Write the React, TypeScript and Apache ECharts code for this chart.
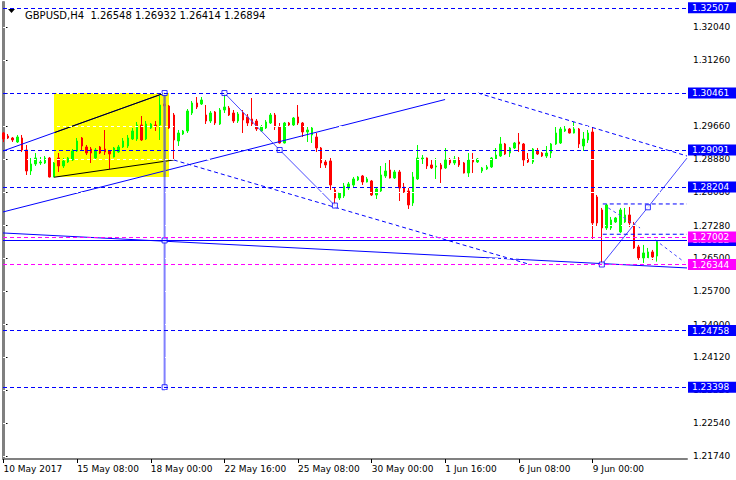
import { useEffect, useRef } from "react";
import * as echarts from "echarts";

const header = "GBPUSD,H4  1.26548 1.26932 1.26414 1.26894";
const xTickLabels = [
  "10 May 2017", "15 May 08:00", "18 May 00:00", "22 May 16:00", "25 May 08:00",
  "30 May 00:00", "1 Jun 16:00", "6 Jun 08:00", "9 Jun 00:00",
];
const barsPerTick = 16;
const yTicks = [
  1.3204, 1.3126, 1.3046, 1.2966, 1.2888, 1.2808, 1.2728, 1.265, 1.257, 1.249,
  1.2412, 1.2332, 1.2254, 1.2174,
];

// [open, close, low, high], one H4 bar each
const candles: number[][] = [
  [1.29502, 1.29358, 1.29286, 1.29526],
  [1.29430, 1.29382, 1.29358, 1.29478],
  [1.29382, 1.29334, 1.29286, 1.29406],
  [1.29286, 1.29406, 1.29262, 1.29454],
  [1.29382, 1.29094, 1.29046, 1.29454],
  [1.29094, 1.28590, 1.28494, 1.29214],
  [1.28590, 1.28758, 1.28494, 1.28902],
  [1.28758, 1.28902, 1.28710, 1.29022],
  [1.28782, 1.28806, 1.28734, 1.28926],
  [1.28782, 1.28902, 1.28758, 1.28950],
  [1.28902, 1.28446, 1.28434, 1.28926],
  [1.28446, 1.28782, 1.28440, 1.28806],
  [1.28902, 1.28710, 1.28566, 1.29022],
  [1.28710, 1.28830, 1.28662, 1.28902],
  [1.28806, 1.28902, 1.28782, 1.28926],
  [1.28854, 1.29070, 1.28830, 1.29118],
  [1.29070, 1.29310, 1.29046, 1.29382],
  [1.29382, 1.29190, 1.29094, 1.29406],
  [1.29166, 1.29022, 1.28974, 1.29214],
  [1.29118, 1.29022, 1.28782, 1.29166],
  [1.28902, 1.29094, 1.28878, 1.29142],
  [1.29166, 1.29022, 1.28998, 1.29190],
  [1.29118, 1.29046, 1.28974, 1.29574],
  [1.29070, 1.28998, 1.28638, 1.29094],
  [1.28926, 1.29142, 1.28914, 1.29166],
  [1.29046, 1.29166, 1.29022, 1.29214],
  [1.29166, 1.29310, 1.29142, 1.29382],
  [1.29190, 1.29382, 1.29142, 1.29454],
  [1.29358, 1.29550, 1.29334, 1.29622],
  [1.29358, 1.29694, 1.29310, 1.29766],
  [1.29694, 1.29334, 1.29310, 1.29910],
  [1.29358, 1.29718, 1.29334, 1.29790],
  [1.29622, 1.29718, 1.29598, 1.29742],
  [1.29694, 1.29670, 1.29550, 1.29790],
  [1.29694, 1.30174, 1.29334, 1.30390],
  [1.30198, 1.30150, 1.30102, 1.30461],
  [1.30150, 1.29622, 1.29598, 1.30174],
  [1.29934, 1.29334, 1.28854, 1.29982],
  [1.29310, 1.29502, 1.29190, 1.29574],
  [1.29478, 1.29550, 1.29454, 1.29574],
  [1.29550, 1.30030, 1.29502, 1.30078],
  [1.29982, 1.30222, 1.29934, 1.30270],
  [1.30222, 1.30126, 1.30078, 1.30366],
  [1.30198, 1.30294, 1.30174, 1.30366],
  [1.29934, 1.29790, 1.29718, 1.30174],
  [1.29790, 1.29982, 1.29742, 1.30030],
  [1.30006, 1.29742, 1.29694, 1.30030],
  [1.29718, 1.30054, 1.29694, 1.30102],
  [1.30054, 1.30126, 1.29982, 1.30461],
  [1.30102, 1.29934, 1.29910, 1.30150],
  [1.29982, 1.29790, 1.29742, 1.30054],
  [1.29790, 1.29958, 1.29742, 1.30006],
  [1.29982, 1.29814, 1.29502, 1.30054],
  [1.29886, 1.29742, 1.29670, 1.29958],
  [1.29838, 1.29718, 1.29646, 1.30342],
  [1.29790, 1.29598, 1.29550, 1.29838],
  [1.29550, 1.29646, 1.29526, 1.29694],
  [1.29622, 1.29766, 1.29598, 1.29814],
  [1.29742, 1.29934, 1.29718, 1.29982],
  [1.29934, 1.29646, 1.29574, 1.29982],
  [1.29646, 1.29262, 1.29250, 1.29742],
  [1.29262, 1.29742, 1.29250, 1.29766],
  [1.29742, 1.29694, 1.29670, 1.29766],
  [1.29694, 1.29862, 1.29670, 1.29886],
  [1.29886, 1.29742, 1.29694, 1.30174],
  [1.29742, 1.29526, 1.29406, 1.29766],
  [1.29526, 1.29574, 1.29286, 1.29646],
  [1.29454, 1.29622, 1.29262, 1.29646],
  [1.29406, 1.29142, 1.29046, 1.29502],
  [1.29142, 1.28782, 1.28662, 1.29166],
  [1.28806, 1.28734, 1.28662, 1.28854],
  [1.28830, 1.28254, 1.28134, 1.28902],
  [1.28134, 1.27942, 1.27760, 1.28182],
  [1.27942, 1.28062, 1.27894, 1.28086],
  [1.27990, 1.28230, 1.27942, 1.28302],
  [1.28182, 1.28278, 1.28134, 1.28326],
  [1.28254, 1.28398, 1.28206, 1.28446],
  [1.28374, 1.28446, 1.28350, 1.28470],
  [1.28470, 1.28326, 1.28254, 1.28494],
  [1.28326, 1.28398, 1.28314, 1.28446],
  [1.28350, 1.28014, 1.27990, 1.28374],
  [1.28014, 1.28158, 1.27918, 1.28182],
  [1.28110, 1.28494, 1.28086, 1.28710],
  [1.28470, 1.28590, 1.28422, 1.28782],
  [1.28614, 1.28422, 1.28410, 1.28878],
  [1.28422, 1.28566, 1.28398, 1.28614],
  [1.28566, 1.28182, 1.27870, 1.28614],
  [1.28206, 1.28086, 1.28062, 1.28302],
  [1.28110, 1.27774, 1.27678, 1.28182],
  [1.27822, 1.28446, 1.27750, 1.28566],
  [1.28398, 1.28902, 1.28374, 1.29214],
  [1.28878, 1.28902, 1.28758, 1.28974],
  [1.28902, 1.28710, 1.28638, 1.28914],
  [1.28734, 1.28662, 1.28638, 1.28878],
  [1.28686, 1.28710, 1.28398, 1.28902],
  [1.28734, 1.28638, 1.28302, 1.28782],
  [1.28662, 1.28854, 1.28638, 1.29142],
  [1.28854, 1.28782, 1.28734, 1.28902],
  [1.28782, 1.28878, 1.28734, 1.28950],
  [1.28878, 1.28734, 1.28686, 1.28926],
  [1.28782, 1.28542, 1.28530, 1.28806],
  [1.28542, 1.28854, 1.28446, 1.29022],
  [1.28854, 1.28806, 1.28542, 1.29022],
  [1.28806, 1.28878, 1.28782, 1.28902],
  [1.28590, 1.28662, 1.28542, 1.28686],
  [1.28638, 1.28686, 1.28614, 1.28734],
  [1.28686, 1.28902, 1.28662, 1.28926],
  [1.28878, 1.28974, 1.28854, 1.29142],
  [1.28950, 1.29238, 1.28926, 1.29406],
  [1.29238, 1.28998, 1.28974, 1.29262],
  [1.29022, 1.29142, 1.28926, 1.29166],
  [1.29142, 1.29262, 1.29118, 1.29286],
  [1.29286, 1.29238, 1.29046, 1.29502],
  [1.29238, 1.28854, 1.28710, 1.29262],
  [1.28878, 1.28806, 1.28782, 1.29022],
  [1.28806, 1.29118, 1.28758, 1.29142],
  [1.29070, 1.28998, 1.28974, 1.29142],
  [1.29022, 1.28950, 1.28926, 1.29046],
  [1.28950, 1.29022, 1.28902, 1.29190],
  [1.29022, 1.29238, 1.28902, 1.29262],
  [1.29238, 1.29502, 1.29214, 1.29670],
  [1.29262, 1.29598, 1.29238, 1.29646],
  [1.29550, 1.29598, 1.29526, 1.29670],
  [1.29598, 1.29502, 1.29490, 1.29622],
  [1.29502, 1.29598, 1.29490, 1.29766],
  [1.29598, 1.29238, 1.29142, 1.29622],
  [1.29190, 1.29358, 1.29070, 1.29526],
  [1.29334, 1.29502, 1.29262, 1.29574],
  [1.29526, 1.27342, 1.26958, 1.29646],
  [1.27966, 1.27342, 1.27270, 1.28014],
  [1.27654, 1.27222, 1.26344, 1.27702],
  [1.27222, 1.27774, 1.27174, 1.27800],
  [1.27222, 1.27414, 1.27174, 1.27486],
  [1.27366, 1.27462, 1.27342, 1.27486],
  [1.27126, 1.27654, 1.27102, 1.27702],
  [1.27366, 1.27534, 1.27342, 1.27702],
  [1.27534, 1.27342, 1.27246, 1.27726],
  [1.27318, 1.26742, 1.26718, 1.27366],
  [1.26766, 1.26502, 1.26454, 1.26814],
  [1.26502, 1.26622, 1.26382, 1.26814],
  [1.26502, 1.26646, 1.26478, 1.26742],
  [1.26646, 1.26526, 1.26454, 1.26694],
  [1.26548, 1.26894, 1.26414, 1.26932],
];

const blueLevels = [1.32507, 1.30461, 1.29091, 1.28204, 1.24758, 1.23398];
const magentaLevels = [1.27002, 1.26344];
const solidLevel = 1.26922;
const lastClose = 1.26894;

const X_MIN = -0.11;
const X_MAX = 148.5;
const Y_MIN = 1.21675;
const Y_MAX = 1.32647;

// drawn objects, [bar index, price]
const yellowBox = [[10.97, 1.30461], [35.96, 1.28446]];
const upperRay = [[X_MIN, 1.2907], [35, 1.30461]];
const upperChannel = [[11.19, 1.29516], [35, 1.30461]];
const lowerChannel = [[11, 1.2844], [37, 1.28854]];
const risingLine = [[X_MIN, 1.27606], [95.94, 1.30306]];
const verticalLine = [[35, 1.30461], [35, 1.23398]];
const verticalInBox = [[35, 1.30461], [35, 1.28446]];
const zigzag = [[48, 1.30461], [60, 1.29094], [72, 1.2776]];
const dashDown1 = [[37, 1.28854], [114.4, 1.26344]];
const dashDown2 = [[103.1, 1.30461], [X_MAX, 1.2895]];
const risingThin = [[130, 1.26344], [140, 1.27718], [X_MAX, 1.289]];
const longDesc = [[X_MIN, 1.27102], [X_MAX, 1.26262]];
const shortLevelA = [[130.2, 1.27798], [X_MAX, 1.27798]];
const shortLevelB = [[130.2, 1.27071], [X_MAX, 1.27071]];
const smallDash1 = [[131.4, 1.27702], [138.3, 1.27222]];
const smallDash2 = [[141.6, 1.26934], [147.9, 1.26406]];
const squares = [
  [35, 1.30461], [35, 1.26922], [35, 1.23398], [48, 1.30461],
  [60, 1.29094], [72, 1.2776], [130, 1.26344], [140, 1.27718],
];

const FONT = "DejaVu Sans";

export default function App() {
  const ref = useRef<HTMLDivElement>(null);
  useEffect(() => {
    if (!ref.current) return;
    const chart = echarts.init(ref.current, undefined, { renderer: "svg" });

    const seg = (pts: number[][], color: string, width: number, dash?: number[]) => ({
      type: "line",
      data: pts,
      symbol: "none",
      silent: true,
      z: 3,
      lineStyle: { color, width, type: dash ? dash : "solid" },
    });

    const boxLabel = (v: number, bg: string) => ({
      show: true,
      position: "end",
      distance: 1,
      formatter: v.toFixed(5),
      color: "#ffffff",
      backgroundColor: bg,
      fontFamily: FONT,
      fontSize: 9,
      lineHeight: 10,
      padding: [1, 9, 0, 4],
    });

    const levelData: any[] = [];
    blueLevels.forEach((v) =>
      levelData.push({
        yAxis: v,
        lineStyle: { color: "#0000ff", width: 1, type: [4, 3] },
        label: boxLabel(v, "#0000ff"),
      })
    );
    levelData.push({
      yAxis: lastClose,
      lineStyle: { color: "#000000", width: 0, opacity: 0 },
      label: boxLabel(lastClose, "#000000"),
    });
    levelData.push({
      yAxis: solidLevel,
      lineStyle: { color: "#0000ff", width: 1, type: "solid" },
      label: boxLabel(solidLevel, "#0000ff"),
    });
    magentaLevels.forEach((v) =>
      levelData.push({
        yAxis: v,
        lineStyle: { color: "#ff00ff", width: 1, type: [4, 3] },
        label: boxLabel(v, "#ff00ff"),
      })
    );

    const option: any = {
      animation: false,
      backgroundColor: "#ffffff",
      title: {
        text: header,
        left: 20,
        top: 5,
        textStyle: { fontSize: 10, fontWeight: "normal", fontFamily: FONT, color: "#000000" },
      },
      graphic: [
        {
          type: "polygon",
          shape: { points: [[8, 9], [15, 9], [11.5, 13]] },
          style: { fill: "#000000" },
        },
      ],
      grid: { left: 3, right: 49, top: 2, bottom: 21, show: false },
      xAxis: {
        type: "value",
        min: X_MIN,
        max: X_MAX,
        splitLine: { show: false },
        axisLine: { show: true, onZero: false, lineStyle: { color: "#808080", width: 2 } },
        axisTick: {
          show: true,
          customValues: xTickLabels.map((_, i) => i * barsPerTick),
          length: 4,
          lineStyle: { color: "#000000" },
        },
        axisLabel: {
          customValues: xTickLabels.map((_, i) => i * barsPerTick),
          formatter: (v: number) => xTickLabels[Math.round(v / barsPerTick)] ?? "",
          align: "left",
          margin: 5,
          fontSize: 9,
          fontFamily: FONT,
          color: "#000000",
        },
      },
      yAxis: [
        {
          type: "value",
          position: "right",
          min: Y_MIN,
          max: Y_MAX,
          splitLine: { show: false },
          axisLine: { show: true, lineStyle: { color: "#808080", width: 2 } },
          axisTick: { show: true, customValues: yTicks, length: 4, lineStyle: { color: "#000000" } },
          axisLabel: {
            customValues: yTicks,
            formatter: (v: number) => v.toFixed(5),
            margin: 6,
            fontSize: 9,
            fontFamily: FONT,
            color: "#000000",
          },
        },
        {
          type: "value",
          position: "left",
          min: Y_MIN,
          max: Y_MAX,
          splitLine: { show: false },
          axisLine: { show: true, lineStyle: { color: "#808080", width: 2 } },
          axisTick: { show: false },
          axisLabel: { show: false },
        },
      ],
      series: [
        {
          type: "line",
          data: yellowBox,
          symbol: "none",
          lineStyle: { opacity: 0 },
          z: 1,
          silent: true,
          markArea: {
            silent: true,
            itemStyle: { color: "#ffff00", opacity: 1 },
            data: [[{ coord: yellowBox[0] }, { coord: yellowBox[1] }]],
          },
          markLine: {
            silent: true,
            precision: 5,
            symbol: ["none", "none"],
            label: { show: false },
            lineStyle: { color: "#ffffff", width: 1, type: [3, 3] },
            data: yTicks.map((v) => ({ yAxis: v })),
          },
        },
        {
          type: "candlestick",
          data: candles.map((c, i) => [i, c[0], c[1], c[2], c[3]]),
          encode: { x: 0, y: [1, 2, 3, 4] },
          barWidth: 2,
          z: 2,
          silent: true,
          itemStyle: {
            color: "#00ff00",
            color0: "#ff0000",
            borderColor: "#00ff00",
            borderColor0: "#ff0000",
            borderWidth: 1,
          },
        },
        seg(upperRay, "#0000ff", 1),
        seg(upperChannel, "#000000", 1),
        seg(lowerChannel, "#000000", 1),
        seg(risingLine, "#0000ff", 1),
        seg(verticalLine, "#8080ff", 2),
        seg(verticalInBox, "#808080", 2),
        seg(zigzag, "#4a4aff", 1),
        seg(dashDown1, "#0000ff", 1, [4, 3]),
        seg(dashDown2, "#0000ff", 1, [4, 3]),
        seg(risingThin, "#4a4aff", 1),
        seg(longDesc, "#0000ff", 1),
        seg(shortLevelA, "#0000ff", 1, [4, 3]),
        seg(shortLevelB, "#0000ff", 1, [4, 3]),
        seg(smallDash1, "#4a4aff", 1, [3, 3]),
        seg(smallDash2, "#4a4aff", 1, [3, 3]),
        {
          type: "scatter",
          data: squares,
          symbol: "rect",
          symbolSize: 5,
          z: 4,
          silent: true,
          itemStyle: { color: "#ffffff", borderColor: "#0000ff", borderWidth: 1 },
        },
        {
          type: "line",
          data: longDesc,
          symbol: "none",
          lineStyle: { opacity: 0 },
          z: 5,
          silent: true,
          markLine: {
            silent: true,
            precision: 5,
            symbol: ["none", "none"],
            data: levelData,
          },
        },
      ],
    };
    chart.setOption(option);
    return () => chart.dispose();
  }, []);
  return <div ref={ref} style={{ width: 736, height: 480, position: "absolute", left: 0, top: 0 }} />;
}
